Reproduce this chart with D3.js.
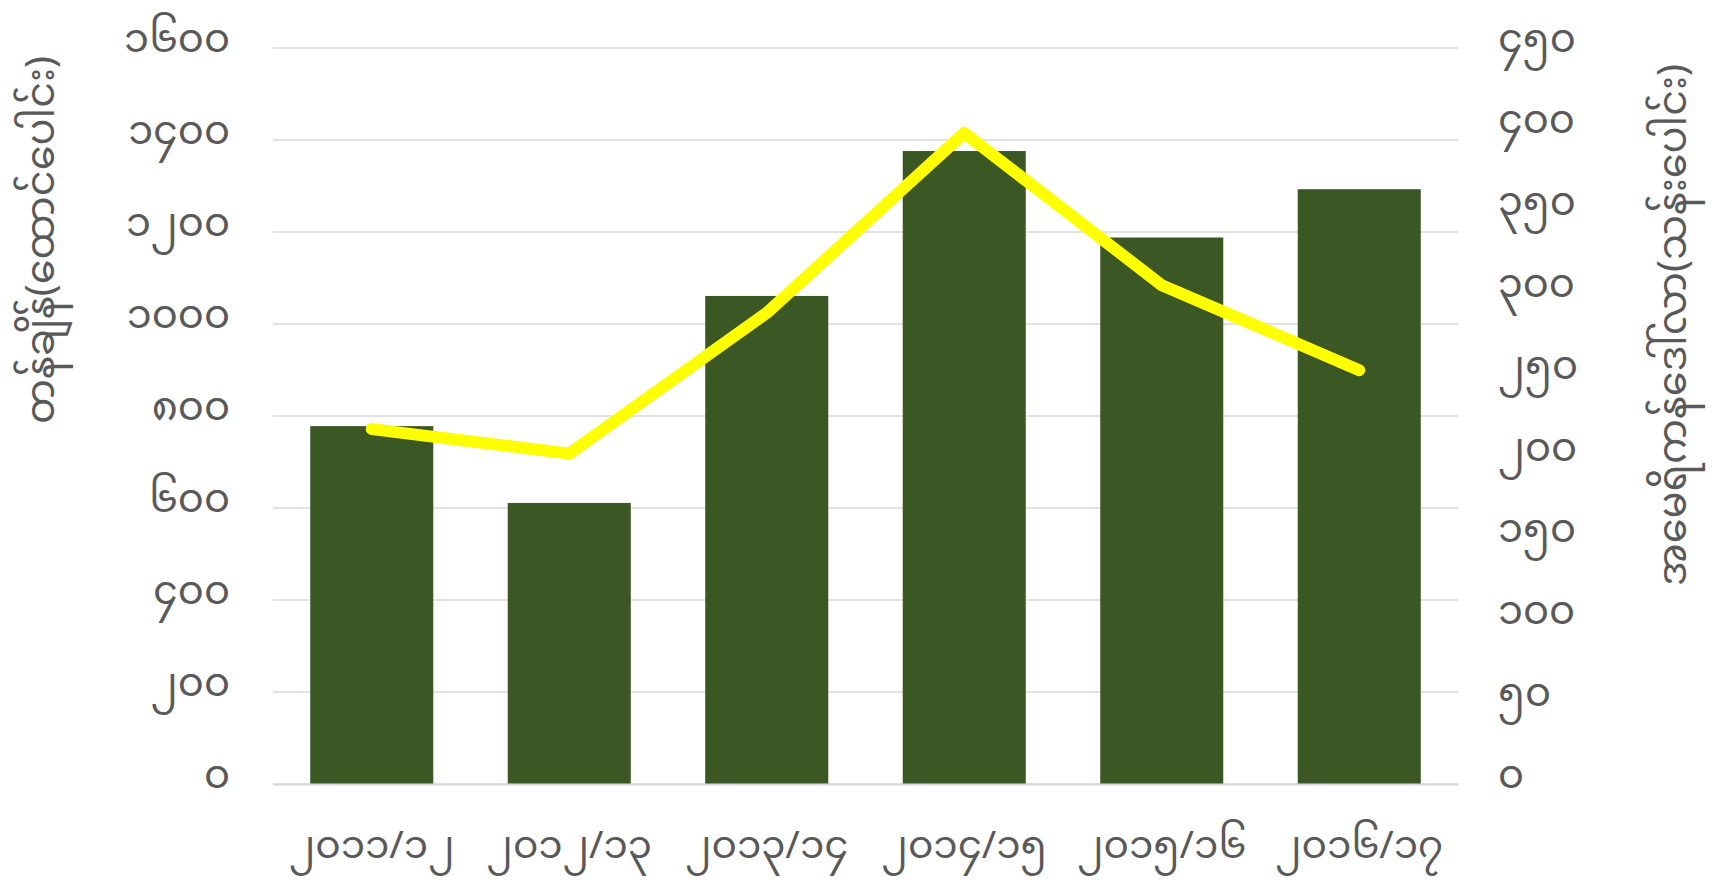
<html>
<head>
<meta charset="utf-8">
<script src="https://d3js.org/d3.v7.min.js"></script>
<style>
  body { margin: 0; background: #fff; }
  text { font-family: "Noto Sans Myanmar", "Myanmar Text", "Padauk", "Noto Sans", sans-serif; fill: #595959; }
</style>
</head>
<body>
<div id="chart"></div>
<script>

// data
var years = ["၂၀၁၁/၁၂", "၂၀၁၂/၁၃", "၂၀၁၃/၁၄", "၂၀၁၄/၁၅", "၂၀၁၅/၁၆", "၂၀၁၆/၁၇"];
var tonnes = [778, 611, 1061, 1376, 1188, 1293];      // bars, left axis
var dollars = [217, 202, 288, 398, 305, 253];         // line, right axis

var leftTicks = [0, 200, 400, 600, 800, 1000, 1200, 1400, 1600];
var leftTickLabels = ["၀", "၂၀၀", "၄၀၀", "၆၀၀", "၈၀၀", "၁၀၀၀", "၁၂၀၀", "၁၄၀၀", "၁၆၀၀"];
var rightTicks = [0, 50, 100, 150, 200, 250, 300, 350, 400, 450];
var rightTickLabels = ["၀", "၅၀", "၁၀၀", "၁၅၀", "၂၀၀", "၂၅၀", "၃၀၀", "၃၅၀", "၄၀၀", "၄၅၀"];

var leftTitle = "တန်ချိန်(ထောင်ပေါင်း)";
var rightTitle = "အမေရိကန်ဒေါ်လာ(သန်းပေါင်း)";

var W = 1729, H = 886;
var margin = {top: 48, right: 271, bottom: 102, left: 273},
    width = W - margin.left - margin.right,
    height = H - margin.top - margin.bottom;

var svg = d3.select("#chart")
    .append("svg")
    .attr("width", W)
    .attr("height", H)
    .append("g")
    .attr("transform", "translate(" + margin.left + "," + margin.top + ")");

var x = d3.scaleBand()
    .domain(years)
    .range([0, width])
    .paddingInner(0.377)
    .paddingOuter(0.1885);

var yL = d3.scaleLinear().domain([0, 1600]).range([height, 0]);
var yR = d3.scaleLinear().domain([0, 450]).range([height, 0]);

//gridlines
svg.append("g")
    .selectAll("line")
    .data(leftTicks)
    .enter()
    .append("line")
    .attr("x1", 0)
    .attr("x2", width)
    .attr("y1", function(d){ return yL(d); })
    .attr("y2", function(d){ return yL(d); })
    .attr("stroke", "#d9d9d9")
    .attr("stroke-width", 1.5);

//left axis labels
var leftAxis = svg.append("g")
    .attr("transform", "translate(-43,0)")
    .call(d3.axisLeft(yL).tickValues(leftTicks).tickSize(0).tickPadding(0)
        .tickFormat(function(d, i){ return leftTickLabels[i]; }));
leftAxis.select(".domain").remove();
leftAxis.selectAll("text").attr("font-size", 40).attr("dy", "0.08em").style("fill", "#595959");

//right axis labels
var rightAxis = svg.append("g")
    .attr("transform", "translate(" + (width + 40) + ",0)")
    .call(d3.axisRight(yR).tickValues(rightTicks).tickSize(0).tickPadding(0)
        .tickFormat(function(d, i){ return rightTickLabels[i]; }));
rightAxis.select(".domain").remove();
rightAxis.selectAll("text").attr("font-size", 40).attr("dy", "0.08em").style("fill", "#595959");

//bars
svg.selectAll(".bar")
    .data(tonnes)
    .enter()
    .append("rect")
    .attr("class", "bar")
    .attr("x", function(d, i){ return x(years[i]); })
    .attr("width", x.bandwidth())
    .attr("y", function(d){ return yL(d); })
    .attr("height", function(d){ return height - yL(d); })
    .attr("fill", "#3b5723");

//bottom axis
var bottomAxis = svg.append("g")
    .attr("transform", "translate(0," + height + ")")
    .call(d3.axisBottom(x).tickSize(0).tickPadding(46));
bottomAxis.select(".domain").attr("stroke", "#d9d9d9").attr("stroke-width", 2);
bottomAxis.selectAll("text").attr("font-size", 39).style("fill", "#595959");

//line
var line = d3.line()
    .x(function(d, i){ return x(years[i]) + x.bandwidth() / 2; })
    .y(function(d){ return yR(d); });

svg.append("path")
    .datum(dollars)
    .attr("d", line)
    .attr("fill", "none")
    .attr("stroke", "#ffff00")
    .attr("stroke-width", 12)
    .attr("stroke-linecap", "round")
    .attr("stroke-linejoin", "round");

//axis titles
svg.append("text")
    .attr("transform", "translate(" + (40 - margin.left) + "," + (240 - margin.top) + ") rotate(-90)")
    .attr("text-anchor", "middle")
    .attr("dy", "0.35em")
    .attr("font-size", 40)
    .text(leftTitle);

svg.append("text")
    .attr("transform", "translate(" + (1672 - margin.left) + "," + (325 - margin.top) + ") rotate(-90)")
    .attr("text-anchor", "middle")
    .attr("dy", "0.35em")
    .attr("font-size", 40)
    .text(rightTitle);

</script>
</body>
</html>
